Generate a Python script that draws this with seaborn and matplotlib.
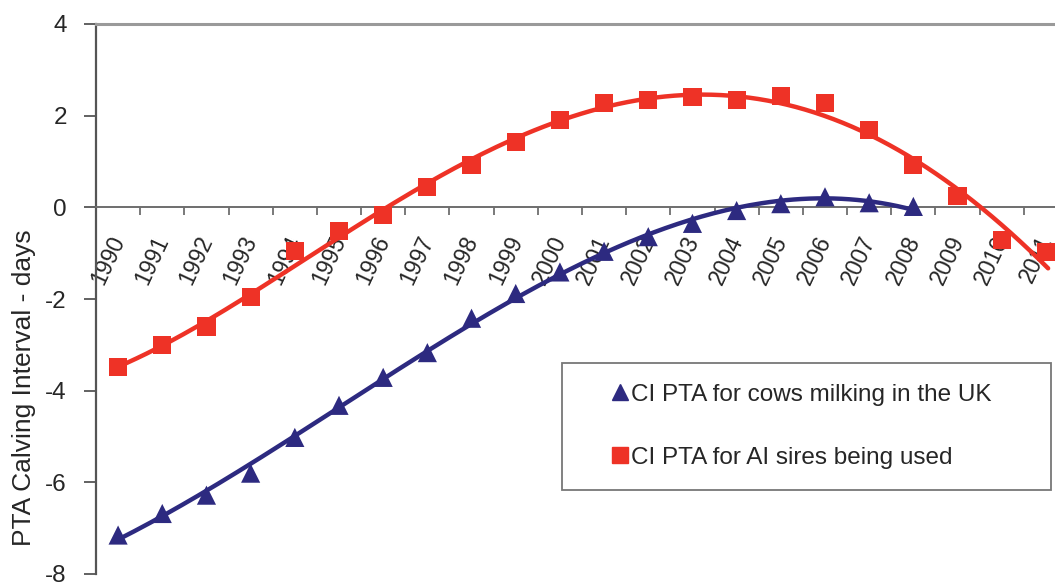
# PTA calving interval trend: cows milking in the UK vs AI sires being used
import numpy as np
import pandas as pd
import seaborn as sns
import matplotlib.pyplot as plt
from matplotlib.lines import Line2D
from matplotlib.transforms import ScaledTranslation

# Data
years = list(range(1990, 2012))
cows_years = list(range(1990, 2009))
cows_uk = [-7.15, -6.68, -6.28, -5.80, -5.02, -4.32, -3.71, -3.17, -2.42, -1.88,
           -1.41, -0.96, -0.64, -0.35, -0.07, 0.08, 0.23, 0.10, 0.02]
ai_sires = [-3.49, -3.00, -2.60, -1.96, -0.95, -0.52, -0.17, 0.44, 0.92, 1.42,
            1.90, 2.27, 2.35, 2.40, 2.34, 2.42, 2.27, 1.68, 0.93, 0.24, -0.72, -0.98]
y_ticks = [-8, -6, -4, -2, 0, 2, 4]

label_cows = "CI PTA for cows milking in the UK"
label_ai = "CI PTA for AI sires being used"

blue = "#2D2A80"
red = "#EE3226"

sns.set_style("white")
plt.rcParams["font.family"] = ["Liberation Sans", "DejaVu Sans"]

df_cows = pd.DataFrame({"year": cows_years, "pta": cows_uk})
df_ai = pd.DataFrame({"year": years, "pta": ai_sires})

# Excel-style polynomial trendlines
fit_cows = np.polyfit(df_cows["year"] - 2000, df_cows["pta"], 3)
fit_ai = np.polyfit(df_ai["year"] - 2000, df_ai["pta"], 4)
xs_cows = np.linspace(1990, 2008, 200)
xs_ai = np.linspace(1990, 2011.05, 200)
trend_cows = pd.DataFrame({"year": xs_cows, "pta": np.polyval(fit_cows, xs_cows - 2000)})
trend_ai = pd.DataFrame({"year": xs_ai, "pta": np.polyval(fit_ai, xs_ai - 2000)})

fig = plt.figure(figsize=(10.55, 5.86), dpi=100)
ax = fig.add_axes([96 / 1055, 12 / 586, 972 / 1055, 550 / 586])

sns.scatterplot(data=df_ai, x="year", y="pta", marker="s", s=170, color=red,
                edgecolor="none", ax=ax, zorder=3, legend=False)
sns.scatterplot(data=df_cows, x="year", y="pta", marker="^", s=190, color=blue,
                edgecolor="none", ax=ax, zorder=3, legend=False)
sns.lineplot(data=trend_ai, x="year", y="pta", color=red, linewidth=3.2, ax=ax, zorder=4)
sns.lineplot(data=trend_cows, x="year", y="pta", color=blue, linewidth=3.2, ax=ax, zorder=4)

ax.set_xlim(1989.5, 2011.5)
ax.set_ylim(-8, 4)
ax.set_xlabel("")
ax.set_ylabel("PTA Calving Interval - days", fontsize=19)
ax.yaxis.set_label_coords(-60 / 972, 0.338)

# axes lines
ax.spines["bottom"].set_position(("data", 0))
ax.spines["bottom"].set_color("#6e6e6e")
ax.spines["bottom"].set_linewidth(1.4)
ax.spines["left"].set_color("#555555")
ax.spines["left"].set_linewidth(1.6)
ax.spines["top"].set_color("#9a9a9a")
ax.spines["top"].set_linewidth(2.2)
ax.spines["right"].set_visible(False)

ax.set_yticks(y_ticks)
ax.set_yticklabels([str(v) for v in y_ticks])
ax.tick_params(axis="y", direction="out", length=9, width=1.3, color="#555555",
               pad=12, labelsize=17.5, left=True)

ax.set_xticks(years)
ax.set_xticklabels([str(y) for y in years], rotation=65, ha="right", va="top")
ax.set_xticks([y + 0.5 for y in [1989] + years], minor=True)
ax.tick_params(axis="x", which="major", length=0, pad=18, labelsize=16.5)
ax.tick_params(axis="x", which="minor", direction="out", length=6, width=1.3,
               color="#6e6e6e", bottom=True)
offset = ScaledTranslation(8 / 72, 0, fig.dpi_scale_trans)
for lbl in ax.get_xticklabels():
    lbl.set_transform(lbl.get_transform() + offset)

# legend with marker-only handles
handles = [
    Line2D([], [], linestyle="none", marker="^", markersize=12, color=blue),
    Line2D([], [], linestyle="none", marker="s", markersize=11, color=red),
]
leg = fig.legend(handles, [label_cows, label_ai], loc="upper left",
                 bbox_to_anchor=(562 / 1055, 223 / 586 - 0.3, 489 / 1055, 0.3),
                 bbox_transform=fig.transFigure, mode="expand", borderaxespad=0,
                 fontsize=17.5, frameon=True, fancybox=False, numpoints=1,
                 handlelength=3.05, handletextpad=-1.07, borderpad=0.85,
                 labelspacing=1.7)
leg.get_frame().set_edgecolor("#555555")
leg.get_frame().set_linewidth(1.3)

fig.savefig("out.png", dpi=100)
